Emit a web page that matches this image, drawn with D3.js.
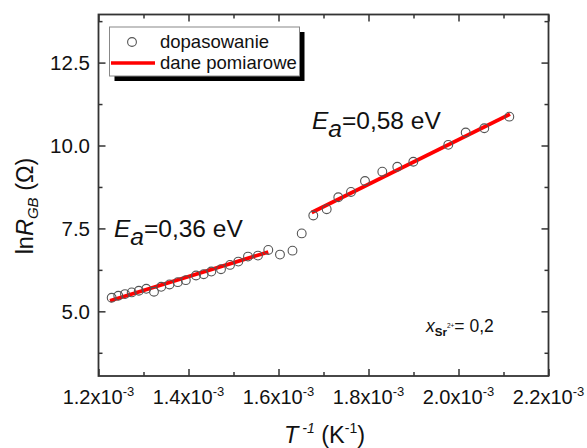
<!DOCTYPE html>
<html><head><meta charset="utf-8">
<script src="https://cdn.jsdelivr.net/npm/d3@7"></script>
<style>
html,body{margin:0;padding:0;background:#fff;}
svg{display:block;font-family:"Liberation Sans",Arial,sans-serif;}
</style></head><body>
<svg id="chart" width="587" height="448"></svg>
<script>
// Measured grain-boundary resistance vs inverse temperature
const invT = [
  1.2293e-3, 1.2440e-3, 1.2589e-3, 1.2738e-3, 1.2896e-3, 1.3062e-3, 1.3233e-3, 1.3393e-3,
  1.3578e-3, 1.3762e-3, 1.3940e-3, 1.4167e-3, 1.4338e-3, 1.4507e-3, 1.4722e-3, 1.4922e-3,
  1.5107e-3, 1.5322e-3, 1.5544e-3, 1.5773e-3, 1.6033e-3, 1.6311e-3, 1.6516e-3, 1.6773e-3,
  1.7071e-3, 1.7329e-3, 1.7611e-3, 1.7922e-3, 1.8307e-3, 1.8640e-3, 1.8996e-3, 1.9773e-3,
  2.0160e-3, 2.0573e-3, 2.1129e-3
];
const lnR = [
  5.41, 5.47, 5.52, 5.57, 5.62, 5.68, 5.59, 5.74,
  5.81, 5.88, 5.94, 6.08, 6.12, 6.20, 6.27, 6.40,
  6.50, 6.65, 6.68, 6.85, 6.71, 6.83, 7.35, 7.89,
  8.08, 8.44, 8.60, 8.93, 9.21, 9.36, 9.51, 10.02,
  10.39, 10.52, 10.87
];

// Arrhenius fits: x range, ln R at the start, activation energy (eV)
const kB = 8.617e-5;
const fitLowX = [1.2256e-3, 1.5773e-3];
const fitLowY0 = 5.32;
const fitLowEa = 0.36;
const fitHighX = [1.6738e-3, 2.1144e-3];
const fitHighY0 = 7.98;
const fitHighEa = 0.58;

// Axis ticks
const xTicks = [1.2e-3, 1.4e-3, 1.6e-3, 1.8e-3, 2.0e-3, 2.2e-3];
const xMinor = [1.3e-3, 1.5e-3, 1.7e-3, 1.9e-3, 2.1e-3];
const yTicks = [5.0, 7.5, 10.0, 12.5];
const yMinor = [3.75, 6.25, 8.75, 11.25, 13.75];

const legendItems = ["dopasowanie", "dane pomiarowe"];

const svg = d3.select("#chart");
const L = 98.5, R = 548.5, T = 14.5, B = 376;
const x = d3.scaleLinear().domain([1.2e-3, 2.2e-3]).range([L, R]);
const y = d3.scaleLinear().domain([3.05, 13.95]).range([B, T]);
const axisColor = "#333";

function styleAxis(g) {
  g.select(".domain").remove();
  g.selectAll(".tick line").attr("stroke", axisColor).attr("stroke-width", 1.5);
  g.selectAll(".tick text").remove();
}

// ticks on all four sides, pointing inward
svg.append("g").attr("transform", `translate(0,${B})`)
  .call(d3.axisBottom(x).tickValues(xTicks).tickSize(-7).tickFormat(() => "")).call(styleAxis);
svg.append("g").attr("transform", `translate(0,${B})`)
  .call(d3.axisBottom(x).tickValues(xMinor).tickSize(-4).tickFormat(() => "")).call(styleAxis);
svg.append("g").attr("transform", `translate(0,${T})`)
  .call(d3.axisTop(x).tickValues(xTicks).tickSize(-7).tickFormat(() => "")).call(styleAxis);
svg.append("g").attr("transform", `translate(0,${T})`)
  .call(d3.axisTop(x).tickValues(xMinor).tickSize(-4).tickFormat(() => "")).call(styleAxis);
svg.append("g").attr("transform", `translate(${L},0)`)
  .call(d3.axisLeft(y).tickValues(yTicks).tickSize(-7).tickFormat(() => "")).call(styleAxis);
svg.append("g").attr("transform", `translate(${L},0)`)
  .call(d3.axisLeft(y).tickValues(yMinor).tickSize(-4).tickFormat(() => "")).call(styleAxis);
svg.append("g").attr("transform", `translate(${R},0)`)
  .call(d3.axisRight(y).tickValues(yTicks).tickSize(-7).tickFormat(() => "")).call(styleAxis);
svg.append("g").attr("transform", `translate(${R},0)`)
  .call(d3.axisRight(y).tickValues(yMinor).tickSize(-4).tickFormat(() => "")).call(styleAxis);

svg.append("rect").attr("x", L).attr("y", T).attr("width", R - L).attr("height", B - T)
  .attr("fill", "none").attr("stroke", axisColor).attr("stroke-width", 1.8);

// x tick labels: mantissa x10^-3
const xl = svg.append("g").selectAll("text").data(xTicks).join("text")
  .attr("x", d => x(d)).attr("y", 404).attr("text-anchor", "middle")
  .attr("font-size", 20).attr("fill", "#111");
xl.append("tspan").text(d => (d * 1e3).toFixed(1) + "x10");
xl.append("tspan").attr("dy", -8.5).attr("font-size", 13).text("-3");

// y tick labels
svg.append("g").selectAll("text").data(yTicks).join("text")
  .attr("x", 90).attr("y", d => y(d)).attr("dy", "0.35em").attr("text-anchor", "end")
  .attr("font-size", 20.5).attr("fill", "#111").text(d => d.toFixed(1));

// axis titles
const xt = svg.append("text").attr("x", (L + R) / 2 + 1).attr("y", 443)
  .attr("text-anchor", "middle").attr("font-size", 23.5).attr("fill", "#111");
xt.append("tspan").attr("font-style", "italic").text("T");
xt.append("tspan").attr("dy", -10).attr("font-size", 14).attr("font-style", "italic").text(" -1");
xt.append("tspan").attr("dy", 10).text(" (K");
xt.append("tspan").attr("dy", -10).attr("font-size", 14).text("-1");
xt.append("tspan").attr("dy", 10).text(")");

const yt = svg.append("text").attr("transform", "translate(33,206) rotate(-90)")
  .attr("text-anchor", "middle").attr("font-size", 23.5).attr("fill", "#111");
yt.append("tspan").text("ln");
yt.append("tspan").attr("font-style", "italic").text("R");
yt.append("tspan").attr("dy", 5).attr("font-size", 15).attr("font-style", "italic").text("GB");
yt.append("tspan").attr("dy", -5).text(" (Ω)");

// fit lines
function fitLine(xr, y0, ea) {
  const slope = ea / kB;
  return [[xr[0], y0], [xr[1], y0 + slope * (xr[1] - xr[0])]];
}
const line = d3.line().x(d => x(d[0])).y(d => y(d[1]));
[fitLine(fitLowX, fitLowY0, fitLowEa), fitLine(fitHighX, fitHighY0, fitHighEa)].forEach(seg => {
  svg.append("path").attr("d", line(seg)).attr("stroke", "#ff0000")
    .attr("stroke-width", 3.8).attr("fill", "none");
});

// measured points
svg.append("g").selectAll("circle").data(invT).join("circle")
  .attr("cx", d => x(d)).attr("cy", (d, i) => y(lnR[i])).attr("r", 4.4)
  .attr("fill", "none").attr("stroke", "#555").attr("stroke-width", 1.1);

// activation energy labels
function eaLabel(px, py, ea) {
  const t = svg.append("text").attr("x", px).attr("y", py).attr("font-size", 24.5).attr("fill", "#111");
  t.append("tspan").attr("font-style", "italic").text("E");
  t.append("tspan").attr("font-style", "italic").attr("dy", 8).text("a");
  t.append("tspan").attr("dy", -8).text("=" + ea.toFixed(2).replace(".", ",") + " eV");
}
eaLabel(114, 237, fitLowEa);
eaLabel(312, 129, fitHighEa);

// composition label
const xs = svg.append("text").attr("x", 426).attr("y", 332).attr("font-size", 17.5).attr("fill", "#111");
xs.append("tspan").attr("font-style", "italic").text("x");
xs.append("tspan").attr("dy", 4).attr("font-size", 11.5).attr("font-weight", "bold").text("Sr");
xs.append("tspan").attr("dy", -8).attr("font-size", 6.5).text("2+");
xs.append("tspan").attr("dy", 4).text("= 0,2");

// legend with drop shadow
const lg = svg.append("g");
lg.append("rect").attr("x", 114.5).attr("y", 32).attr("width", 190).attr("height", 49).attr("fill", "#000");
lg.append("rect").attr("x", 109.5).attr("y", 27).attr("width", 190).attr("height", 49)
  .attr("fill", "#fff").attr("stroke", "#888").attr("stroke-width", 1);
lg.append("circle").attr("cx", 132).attr("cy", 42).attr("r", 4.4)
  .attr("fill", "none").attr("stroke", "#555").attr("stroke-width", 1.1);
lg.append("line").attr("x1", 111).attr("x2", 155).attr("y1", 63).attr("y2", 63)
  .attr("stroke", "#ff0000").attr("stroke-width", 3.5);
lg.selectAll("text.lbl").data(legendItems).join("text").attr("class", "lbl")
  .attr("x", 160).attr("y", (d, i) => 42 + i * 21).attr("dy", "0.35em")
  .attr("font-size", 18.5).attr("fill", "#111").text(d => d);
</script>
</body></html>
